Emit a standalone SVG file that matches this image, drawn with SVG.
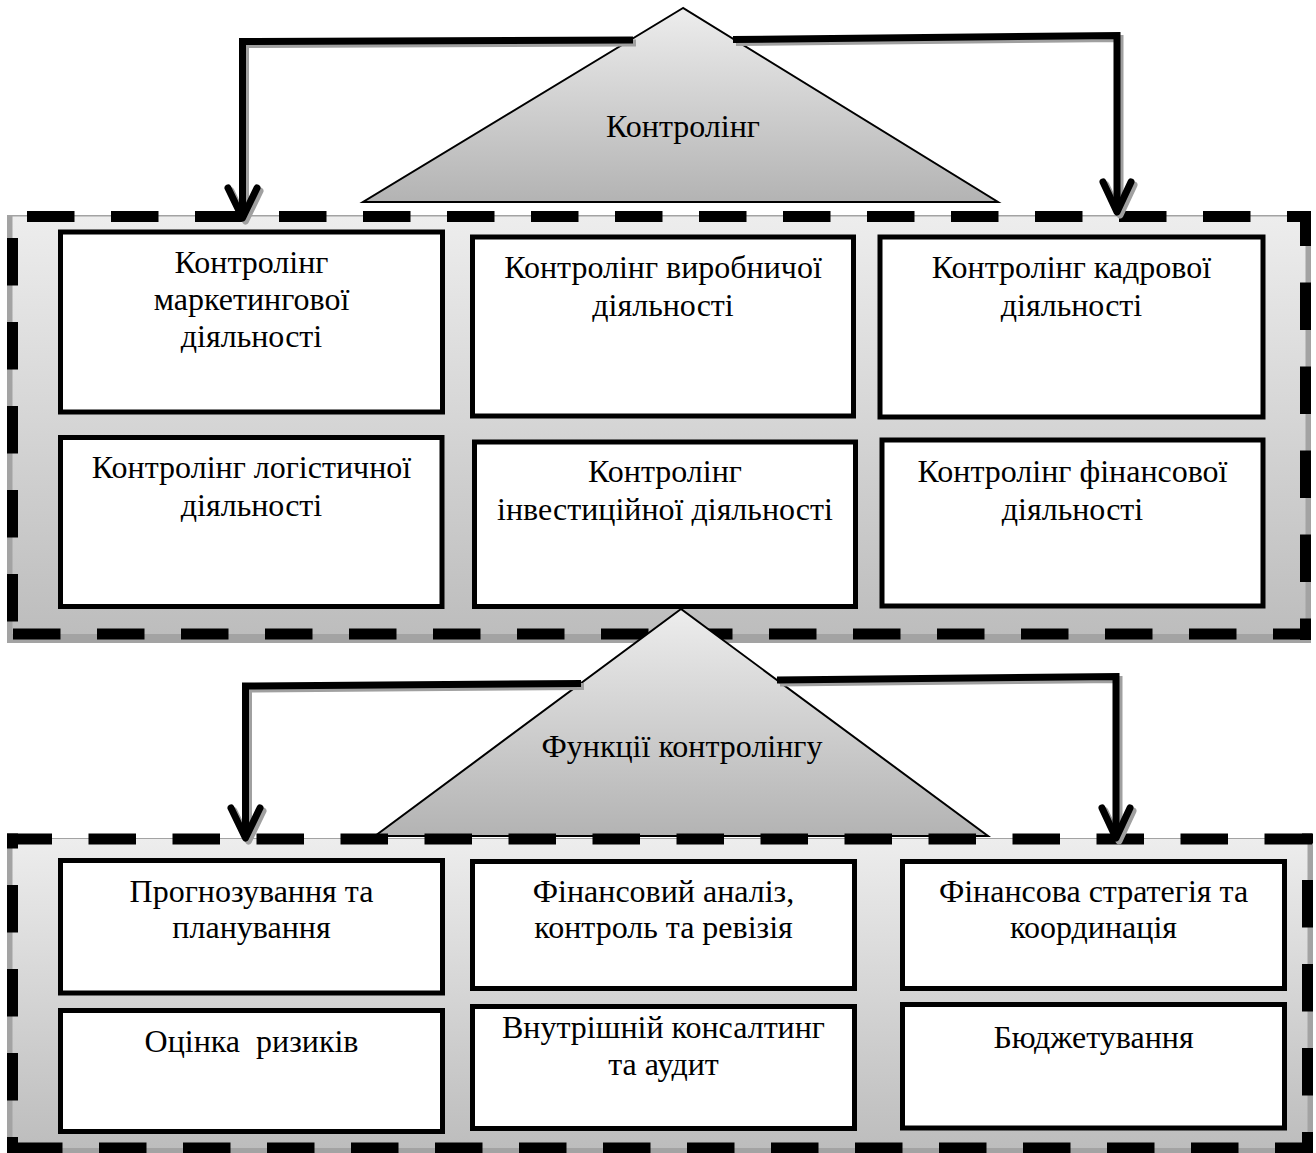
<svg xmlns="http://www.w3.org/2000/svg" width="1316" height="1153" viewBox="0 0 1316 1153">
<defs>
<linearGradient id="gCont" x1="0" y1="0" x2="0" y2="1">
<stop offset="0" stop-color="#ededed"/>
<stop offset="1" stop-color="#bdbdbd"/>
</linearGradient>
<linearGradient id="gTri" x1="0" y1="0" x2="0" y2="1">
<stop offset="0" stop-color="#ededed"/>
<stop offset="1" stop-color="#b3b3b3"/>
</linearGradient>
</defs>
<style>
.shadow{fill:#a3a3a3}
.cont{fill:url(#gCont)}
.dash{stroke:#000;stroke-width:11;fill:none;stroke-dasharray:47.5 36.5}
.box{fill:#fff;stroke:#000;stroke-width:5}
.tri{fill:url(#gTri);stroke:#000;stroke-width:2;stroke-linejoin:miter}
.t{font-family:"Liberation Serif","Times New Roman",serif;font-size:32px;fill:#000;text-anchor:middle;white-space:pre}
.con{fill:none;stroke:#000;stroke-width:7;stroke-linejoin:miter}
.conS{fill:none;stroke:#a0a0a0;stroke-width:7}
.arr{fill:none;stroke:#000;stroke-width:7;stroke-linecap:round;stroke-linejoin:round}
.arrS{fill:none;stroke:#a0a0a0;stroke-width:7;stroke-linecap:round;stroke-linejoin:round}
</style>

<g id="triangle-top">
<polygon class="tri" points="683,8 363,202 998,202"/>
<text class="t" x="683" y="137">Контролінг</text>
</g>

<g id="container-top">
<rect class="shadow" x="7" y="215" width="1304" height="428"/>
<rect class="cont" x="12.5" y="216.5" width="1293" height="417.5"/>
<path class="dash" d="M12.5,216.5 H1311" stroke-dashoffset="-14.5"/>
<path class="dash" d="M1305.5,211 V640" stroke-dashoffset="12.5"/>
<path class="dash" d="M1311,634 H7" stroke-dashoffset="9.5"/>
<path class="dash" d="M12.5,216.5 V634" stroke-dashoffset="-21.5"/>
</g>

<g id="box-marketing">
<rect class="box" x="60.5" y="232" width="382" height="180"/>
<text class="t" x="251.5" y="273">Контролінг</text>
<text class="t" x="251.5" y="310">маркетингової</text>
<text class="t" x="251.5" y="347">діяльності</text>
</g>
<g id="box-production">
<rect class="box" x="472.5" y="237" width="381" height="179"/>
<text class="t" x="663" y="278">Контролінг виробничої</text>
<text class="t" x="663" y="316">діяльності</text>
</g>
<g id="box-hr">
<rect class="box" x="880" y="237" width="383" height="180"/>
<text class="t" x="1071.5" y="278">Контролінг кадрової</text>
<text class="t" x="1071.5" y="316">діяльності</text>
</g>
<g id="box-logistics">
<rect class="box" x="60.5" y="437.5" width="381.5" height="169"/>
<text class="t" x="251.5" y="478">Контролінг логістичної</text>
<text class="t" x="251.5" y="516">діяльності</text>
</g>
<g id="box-investment">
<rect class="box" x="474.5" y="442" width="381" height="164.5"/>
<text class="t" x="665" y="482">Контролінг</text>
<text class="t" x="665" y="520">інвестиційної діяльності</text>
</g>
<g id="box-finance">
<rect class="box" x="882" y="440" width="381" height="166"/>
<text class="t" x="1072.5" y="482">Контролінг фінансової</text>
<text class="t" x="1072.5" y="520">діяльності</text>
</g>

<g id="triangle-functions">
<polygon class="tri" points="681,609 375,836 988,836"/>
<text class="t" x="682" y="757">Функції контролінгу</text>
</g>

<g id="container-bottom">
<rect class="shadow" x="7" y="838" width="1306" height="315"/>
<rect class="cont" x="12.5" y="839" width="1295" height="309"/>
<path class="dash" d="M7,839 H1313" stroke-dashoffset="2.5"/>
<path class="dash" d="M1307.5,833.5 V1153" stroke-dashoffset="-46.5"/>
<path class="dash" d="M1313,1148 H7" stroke-dashoffset="9.5"/>
<path class="dash" d="M12.5,833.5 V1153" stroke-dashoffset="32.5"/>
</g>

<g id="box-forecasting">
<rect class="box" x="60.5" y="860.5" width="382" height="132.5"/>
<text class="t" x="251.5" y="902">Прогнозування та</text>
<text class="t" x="251.5" y="938">планування</text>
</g>
<g id="box-analysis">
<rect class="box" x="472.5" y="861.5" width="382" height="127"/>
<text class="t" x="663.5" y="902">Фінансовий аналіз,</text>
<text class="t" x="663.5" y="938">контроль та ревізія</text>
</g>
<g id="box-strategy">
<rect class="box" x="902.5" y="861.5" width="382" height="127"/>
<text class="t" x="1093.5" y="902">Фінансова стратегія та</text>
<text class="t" x="1093.5" y="938">координація</text>
</g>
<g id="box-risk">
<rect class="box" x="60.5" y="1010.5" width="382" height="121"/>
<text class="t" x="251.5" y="1052">Оцінка  ризиків</text>
</g>
<g id="box-consulting">
<rect class="box" x="472.5" y="1006.5" width="382" height="122"/>
<text class="t" x="663.5" y="1038">Внутрішній консалтинг</text>
<text class="t" x="663.5" y="1075">та аудит</text>
</g>
<g id="box-budgeting">
<rect class="box" x="902.5" y="1004.5" width="382" height="123.5"/>
<text class="t" x="1093.5" y="1048">Бюджетування</text>
</g>

<g id="connectors">
<g transform="translate(3,3)">
<path class="conS" d="M633,40 L242.5,41.5 L242.5,214"/>
<path class="arrS" d="M228,188 L242.5,218 L257,188"/>
<path class="conS" d="M733,39.5 L1117,35.5 L1117,208"/>
<path class="arrS" d="M1103,182 L1117,212 L1131,182"/>
<path class="conS" d="M581,683.5 L245.5,686 L245.5,834"/>
<path class="arrS" d="M231,808 L245.5,838 L260,808"/>
<path class="conS" d="M777,680 L1116,676.5 L1116,834"/>
<path class="arrS" d="M1102,808 L1116,838 L1130,808"/>
</g>
<path class="con" d="M633,40 L242.5,41.5 L242.5,214"/>
<path class="arr" d="M228,188 L242.5,218 L257,188"/>
<path class="con" d="M733,39.5 L1117,35.5 L1117,208"/>
<path class="arr" d="M1103,182 L1117,212 L1131,182"/>
<path class="con" d="M581,683.5 L245.5,686 L245.5,834"/>
<path class="arr" d="M231,808 L245.5,838 L260,808"/>
<path class="con" d="M777,680 L1116,676.5 L1116,834"/>
<path class="arr" d="M1102,808 L1116,838 L1130,808"/>
</g>
</svg>
